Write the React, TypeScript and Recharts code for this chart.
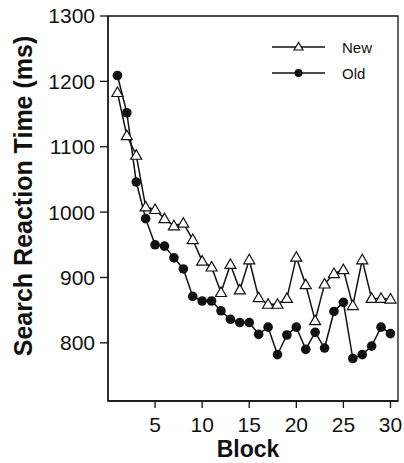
import React from "react";
import {
  LineChart,
  Line,
  XAxis,
  YAxis,
  Legend,
  ReferenceArea,
} from "recharts";

// values
const blocks = [
  1, 2, 3, 4, 5, 6, 7, 8, 9, 10, 11, 12, 13, 14, 15, 16, 17, 18, 19, 20, 21,
  22, 23, 24, 25, 26, 27, 28, 29, 30,
];
const newRT = [
  1183, 1117, 1087, 1008, 1004, 990, 979, 983, 958, 925, 916, 877, 920, 881,
  927, 869, 859, 859, 868, 931, 889, 834, 890, 906, 912, 857, 927, 868, 868,
  867,
];
const oldRT = [
  1209, 1152, 1046, 990, 950, 948, 930, 913, 871, 864, 864, 849, 836, 831, 831,
  813, 824, 782, 812, 824, 790, 816, 792, 848, 862, 776, 782, 795, 824, 814,
];
const xTicks = [5, 10, 15, 20, 25, 30];
const yTicks = [800, 900, 1000, 1100, 1200, 1300];

const data = blocks.map((b, i) => ({ block: b, newRT: newRT[i], oldRT: oldRT[i] }));

const FONT = '"Liberation Sans", Arial, Helvetica, sans-serif';
const INK = "#111";

const Triangle = (props: any) => {
  const { cx, cy } = props;
  if (cx == null || cy == null) return null;
  return (
    <polygon
      points={`${cx},${cy - 5.5} ${cx - 5.5},${cy + 4} ${cx + 5.5},${cy + 4}`}
      fill="#fff"
      stroke={INK}
      strokeWidth={1.2}
    />
  );
};

const Dot = (props: any) => {
  const { cx, cy } = props;
  if (cx == null || cy == null) return null;
  return <circle cx={cx} cy={cy} r={4.8} fill={INK} />;
};

const LegendBox = () => (
  <div style={{ fontFamily: FONT, fontSize: 15, color: INK }}>
    {[
      { label: "New", marker: "tri" },
      { label: "Old", marker: "dot" },
    ].map((row) => (
      <div key={row.label} style={{ display: "flex", alignItems: "center", height: 26 }}>
        <svg width={56} height={14}>
          <line x1={1} y1={7} x2={54} y2={7} stroke={INK} strokeWidth={1.5} />
          {row.marker === "tri" ? (
            <polygon points="27.5,2.5 23,10 32,10" fill="#fff" stroke={INK} strokeWidth={1.2} />
          ) : (
            <circle cx={27.5} cy={7} r={4} fill={INK} />
          )}
        </svg>
        <span style={{ marginLeft: 15 }}>{row.label}</span>
      </div>
    ))}
  </div>
);

export default function App() {
  return (
    <div style={{ position: "absolute", left: 0, top: 0, width: 404, height: 463, overflow: "hidden" }}>
      <LineChart
        width={404}
        height={463}
        data={data}
        margin={{ top: 16, right: 6, left: 48, bottom: 32 }}
      >
        <ReferenceArea
          x1={0}
          x2={30.8}
          y1={711}
          y2={1300}
          fill="none"
          stroke={INK}
          strokeWidth={1.3}
        />
        <XAxis
          type="number"
          dataKey="block"
          domain={[0, 30.8]}
          ticks={xTicks}
          allowDataOverflow
          tickSize={7}
          tickMargin={9}
          axisLine={{ stroke: INK, strokeWidth: 1.3 }}
          tickLine={{ stroke: INK, strokeWidth: 1.3 }}
          tick={{ fill: INK, fontSize: 21, fontFamily: FONT }}
        />
        <YAxis
          type="number"
          domain={[711, 1300]}
          ticks={yTicks}
          allowDataOverflow
          tickSize={8}
          tickMargin={5}
          axisLine={{ stroke: INK, strokeWidth: 1.3 }}
          tickLine={{ stroke: INK, strokeWidth: 1.3 }}
          tick={{ fill: INK, fontSize: 21, fontFamily: FONT }}
        />
        <Legend
          layout="vertical"
          align="center"
          verticalAlign="middle"
          content={() => <LegendBox />}
          wrapperStyle={{ left: 271, top: 34, width: 130, height: 52 }}
        />
        <Line
          dataKey="newRT"
          name="New"
          stroke={INK}
          strokeWidth={1.5}
          dot={<Triangle />}
          isAnimationActive={false}
        />
        <Line
          dataKey="oldRT"
          name="Old"
          stroke={INK}
          strokeWidth={1.5}
          dot={<Dot />}
          isAnimationActive={false}
        />
      </LineChart>
      <div
        style={{
          position: "absolute",
          left: 23,
          top: 196,
          transform: "translate(-50%, -50%) rotate(-90deg)",
          fontFamily: FONT,
          fontWeight: "bold",
          fontSize: 25,
          lineHeight: 1,
          whiteSpace: "nowrap",
          color: INK,
        }}
      >
        Search Reaction Time (ms)
      </div>
      <div
        style={{
          position: "absolute",
          left: 248,
          top: 449,
          transform: "translate(-50%, -50%)",
          fontFamily: FONT,
          fontWeight: "bold",
          fontSize: 23,
          lineHeight: 1,
          whiteSpace: "nowrap",
          color: INK,
        }}
      >
        Block
      </div>
    </div>
  );
}
